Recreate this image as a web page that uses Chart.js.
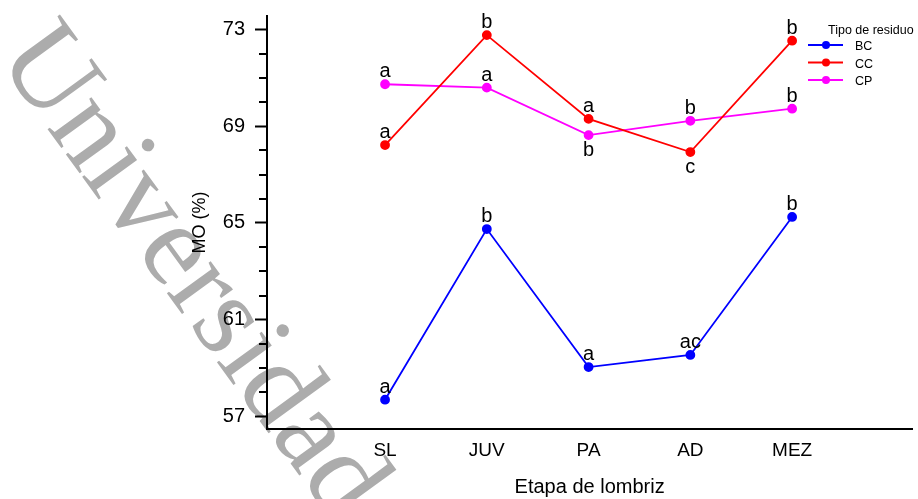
<!DOCTYPE html>
<html>
<head>
<meta charset="utf-8">
<script src="https://cdn.jsdelivr.net/npm/chart.js@4/dist/chart.umd.min.js"></script>
<style>
html,body{margin:0;padding:0;background:#fff;}
#wrap{width:918px;height:499px;position:relative;}
</style>
</head>
<body>
<div id="wrap"><canvas id="c" width="918" height="499"></canvas></div>
<script>
// ---- Data ----
const categories = ['SL', 'JUV', 'PA', 'AD', 'MEZ'];
const seriesNames = ['BC', 'CC', 'CP'];
const valuesBC = [57.7, 64.75, 59.05, 59.55, 65.25];
const valuesCC = [68.22, 72.76, 69.3, 67.93, 72.53];
const valuesCP = [70.73, 70.59, 68.63, 69.22, 69.72];
const lettersBC = ['a', 'b', 'a', 'ac', 'b'];
const lettersCC = ['a', 'b', 'a', 'c', 'b'];
const lettersCP = ['a', 'a', 'b', 'b', 'b'];
const yMajorTicks = [57, 61, 65, 69, 73];
const yMinorTicks = [58, 59, 60, 62, 63, 64, 66, 67, 68, 70, 71, 72];
const legendTitle = 'Tipo de residuo';
const xTitle = 'Etapa de lombriz';
const yTitle = 'MO (%)';
const watermarkText = 'Universidad';

// ---- Style (placement of letters: true = below point) ----
const lettersBelowBC = [false, false, false, false, false];
const lettersBelowCC = [false, false, false, true, false];
const lettersBelowCP = [false, false, true, false, false];
const colors = ['#0000ff', '#ff0000', '#ff00ff'];
const FONT = '"Liberation Sans", Arial, Helvetica, sans-serif';

const allValues = [valuesBC, valuesCC, valuesCP];
const allLetters = [lettersBC, lettersCC, lettersCP];
const allBelow = [lettersBelowBC, lettersBelowCC, lettersBelowCP];

const datasets = seriesNames.map((name, s) => ({
  label: name,
  data: allValues[s].map((v, i) => ({x: i, y: v})),
  borderColor: colors[s],
  backgroundColor: colors[s],
  pointBackgroundColor: colors[s],
  pointBorderColor: colors[s],
  borderWidth: 1.8,
  pointRadius: 4,
  pointHoverRadius: 4,
  tension: 0,
  letters: allLetters[s],
  below: allBelow[s]
}));

const watermarkPlugin = {
  id: 'watermark',
  beforeDraw(chart) {
    const ctx = chart.ctx;
    ctx.save();
    ctx.translate(-4, 58);
    ctx.rotate(54 * Math.PI / 180);
    ctx.font = '118px "Liberation Serif", "Times New Roman", serif';
    ctx.fillStyle = '#acacac';
    ctx.textAlign = 'left';
    ctx.textBaseline = 'alphabetic';
    ctx.fillText(watermarkText, 0, 0);
    ctx.restore();
  }
};

const minorTickPlugin = {
  id: 'minorTicks',
  afterDraw(chart) {
    const ctx = chart.ctx;
    const y = chart.scales.y;
    ctx.save();
    ctx.strokeStyle = '#000';
    ctx.lineWidth = 2;
    yMinorTicks.forEach(v => {
      const py = Math.round(y.getPixelForValue(v));
      ctx.beginPath();
      ctx.moveTo(chart.chartArea.left - 8, py);
      ctx.lineTo(chart.chartArea.left, py);
      ctx.stroke();
    });
    ctx.restore();
  }
};

const letterPlugin = {
  id: 'letters',
  afterDatasetsDraw(chart) {
    const ctx = chart.ctx;
    ctx.save();
    ctx.font = '20px ' + FONT;
    ctx.fillStyle = '#000';
    ctx.textAlign = 'center';
    ctx.textBaseline = 'alphabetic';
    chart.data.datasets.forEach((ds, s) => {
      const meta = chart.getDatasetMeta(s);
      meta.data.forEach((pt, i) => {
        const below = ds.below[i];
        ctx.fillText(ds.letters[i], pt.x, below ? pt.y + 21 : pt.y - 7);
      });
    });
    ctx.restore();
  }
};

const legendPlugin = {
  id: 'customLegend',
  afterDraw(chart) {
    const ctx = chart.ctx;
    ctx.save();
    ctx.fillStyle = '#000';
    ctx.font = '12.5px ' + FONT;
    ctx.textAlign = 'left';
    ctx.textBaseline = 'middle';
    ctx.fillText(legendTitle, 828, 31);
    chart.data.datasets.forEach((ds, s) => {
      const yy = 45 + s * 17.5;
      ctx.strokeStyle = ds.borderColor;
      ctx.lineWidth = 2;
      ctx.beginPath();
      ctx.moveTo(808, yy);
      ctx.lineTo(843, yy);
      ctx.stroke();
      ctx.fillStyle = ds.borderColor;
      ctx.beginPath();
      ctx.arc(826, yy, 4, 0, Math.PI * 2);
      ctx.fill();
      ctx.fillStyle = '#000';
      ctx.fillText(ds.label, 855, yy + 2);
    });
    ctx.restore();
  }
};

new Chart(document.getElementById('c'), {
  type: 'line',
  data: {datasets},
  plugins: [watermarkPlugin, minorTickPlugin, letterPlugin, legendPlugin],
  options: {
    responsive: false,
    animation: false,
    events: [],
    layout: {padding: {top: 16, right: 5, left: 185, bottom: 0}},
    plugins: {legend: {display: false}, tooltip: {enabled: false}, title: {display: false}},
    scales: {
      x: {
        type: 'linear',
        min: -1.16,
        max: 5.18,
        afterBuildTicks(scale) { scale.ticks = categories.map((c, i) => ({value: i})); },
        afterFit(scale) { scale.height = 70; scale.paddingLeft = 0; scale.paddingRight = 0; },
        ticks: {
          callback: (v) => categories[v] ?? '',
          font: {family: FONT, size: 19},
          color: '#000',
          padding: 10,
          maxRotation: 0,
          autoSkip: false
        },
        grid: {display: false, drawTicks: false},
        border: {display: true, color: '#000', width: 2},
        title: {display: true, text: xTitle, font: {family: FONT, size: 20}, color: '#000', padding: 0}
      },
      y: {
        type: 'linear',
        min: 56.49,
        max: 73.55,
        afterBuildTicks(scale) {
          scale.ticks = yMajorTicks.map(v => ({value: v}));
        },
        afterFit(scale) { scale.width = 82; scale.paddingTop = 0; scale.paddingBottom = 0; },
        ticks: {
          callback: (v) => String(v),
          font: {family: FONT, size: 20},
          color: '#000',
          padding: 10
        },
        grid: {display: true, drawOnChartArea: false, drawTicks: true, tickLength: 12, tickWidth: 2, tickColor: '#000'},
        border: {display: true, color: '#000', width: 2},
        title: {display: true, text: yTitle, font: {family: FONT, size: 18}, color: '#000', padding: {top: 4, bottom: 0}}
      }
    }
  }
});
</script>
</body>
</html>
